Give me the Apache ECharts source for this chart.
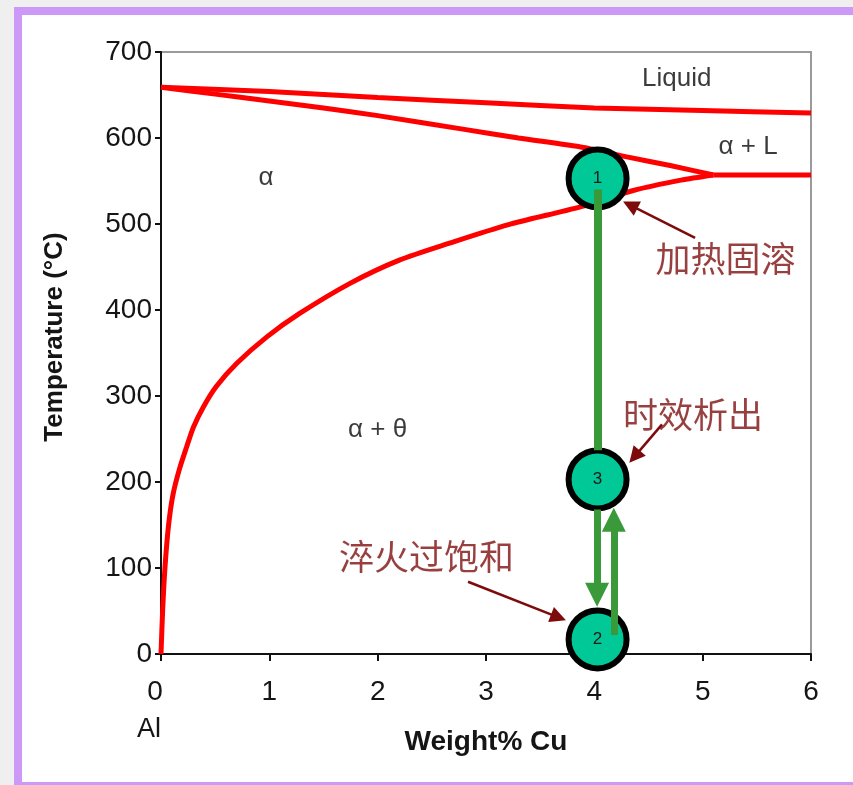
<!DOCTYPE html>
<html><head><meta charset="utf-8">
<script src="https://cdn.jsdelivr.net/npm/echarts@6/dist/echarts.min.js"></script>
<style>html,body{margin:0;padding:0;background:#efefef;}#c{width:853px;height:785px;}</style>
</head><body><div id="c"></div>
<script>
// ---- data ----
const xTicks = [0, 1, 2, 3, 4, 5, 6];
const yTicks = [0, 100, 200, 300, 400, 500, 600, 700];

const liquidusCu = [0, 1, 2, 3, 4, 5, 6];
const liquidusT  = [659, 654, 647, 641, 635, 632, 629];

const solidusCu = [0, 0.5, 1, 1.5, 2, 2.8, 3.3, 3.9, 4.3, 4.7, 5.1];
const solidusT  = [659, 651, 643, 635, 626, 610, 600, 589, 578, 568, 557];

const eutecticCu = [5.1, 6];
const eutecticT  = [557, 557];

const solvusCu = [0, 0.015, 0.037, 0.07, 0.11, 0.17, 0.237, 0.3, 0.39, 0.51, 0.7, 0.98, 1.28, 1.745, 2.2, 2.67, 3.2, 3.87, 4.36, 4.8, 5.1];
const solvusT  = [0, 50, 101, 150, 185, 215, 241, 264, 287, 311, 338, 369, 396, 431, 458, 478, 499, 520, 539, 551, 557];

const stepLabels = ['1', '2', '3'];
const stepCu = [4.03, 4.03, 4.03];
const stepT  = [553, 17, 203];

// process path segments (green)
const heatAgeCu = [4.03, 4.03];
const heatAgeT  = [540, 237];
const quenchCu = [4.025, 4.025];
const quenchT  = [168, 69];
const agingCu = [4.18, 4.18];
const agingT  = [22, 156];

// phase region labels
const regionNames = ['Liquid', 'α + L', 'α', 'α + θ'];
const regionCu = [4.76, 5.42, 0.97, 2.0];
const regionT  = [669, 590, 554, 261];

// annotations (Chinese notes + pointer arrows)
const noteTexts = ['加热固溶', '时效析出', '淬火过饱和'];
const noteCu = [5.21, 4.91, 2.45];
const noteT  = [460, 278, 113];
const noteFromCu = [4.93, 4.625, 2.834];
const noteFromT  = [484, 267, 84];
const noteToCu   = [4.331, 4.371, 3.669];
const noteToT    = [522, 229.5, 42.6];

// ---- build ----
const zip = (a, b) => a.map((v, i) => [v, b[i]]);
const RED = '#ff0000', GREEN = '#3a9a3a', NOTE = '#7e1010';
const FONT = 'Liberation Sans, Arial, sans-serif';
const INK = '#151515';

const chart = echarts.init(document.getElementById('c'));
const redLine = (name, xs, ys) => ({
  name, type: 'line', data: zip(xs, ys), showSymbol: false, symbol: 'none',
  smooth: 0.25, lineStyle: { color: RED, width: 5 }, z: 2, silent: true
});

chart.setOption({
  animation: false,
  backgroundColor: 'transparent',
  graphic: [
    { type: 'rect', shape: { x: 14, y: 7, width: 839, height: 778 }, style: { fill: '#ffffff' }, z: -10 },
    { type: 'rect', shape: { x: 14, y: 7, width: 839, height: 8 }, style: { fill: '#cc99f8' }, z: -9 },
    { type: 'rect', shape: { x: 14, y: 7, width: 8, height: 778 }, style: { fill: '#cc99f8' }, z: -9 },
    { type: 'rect', shape: { x: 14, y: 782, width: 839, height: 3 }, style: { fill: '#cc99f8' }, z: -9 }
  ],
  grid: { left: 161, right: 42, top: 52, bottom: 131, show: true, borderColor: '#9a9a9a', borderWidth: 2, backgroundColor: '#ffffff' },
  xAxis: {
    type: 'value', min: xTicks[0], max: xTicks[xTicks.length - 1], interval: 1,
    axisLine: { show: true, onZero: false, lineStyle: { color: '#111', width: 2 } },
    axisTick: { show: true, length: 7, lineStyle: { color: '#111', width: 2 } },
    splitLine: { show: false },
    axisLabel: {
      fontSize: 28, color: INK, fontFamily: FONT, margin: 19, lineHeight: 38,
      formatter: v => v === 0 ? '{z|0}\n{al|Al}' : String(v),
      rich: {
        z: { fontSize: 28, color: INK, fontFamily: FONT, lineHeight: 38, padding: [0, 12, 0, 0] },
        al: { fontSize: 27, color: INK, fontFamily: FONT, lineHeight: 38, padding: [0, 24, 0, 0] }
      }
    },
    name: 'Weight% Cu', nameLocation: 'middle', nameGap: 88, nameMoveOverlap: false,
    nameTextStyle: { fontSize: 28, fontWeight: 'bold', color: INK, fontFamily: FONT, verticalAlign: 'middle', lineHeight: 30, padding: 0 }
  },
  yAxis: {
    type: 'value', min: yTicks[0], max: yTicks[yTicks.length - 1], interval: 100,
    axisLine: { show: true, lineStyle: { color: '#111', width: 2 } },
    axisTick: { show: true, length: 6, lineStyle: { color: '#111', width: 2 } },
    splitLine: { show: false },
    axisLabel: { fontSize: 28, color: INK, fontFamily: FONT, margin: 9 },
    name: 'Temperature (°C)', nameLocation: 'middle', nameGap: 93, nameRotate: 90, nameMoveOverlap: false,
    nameTextStyle: { fontSize: 26, fontWeight: 'bold', color: INK, fontFamily: FONT, padding: [0, 0, 0, 32] }
  },
  series: [
    redLine('liquidus', liquidusCu, liquidusT),
    redLine('solidus', solidusCu, solidusT),
    redLine('eutectic', eutecticCu, eutecticT),
    redLine('solvus', solvusCu, solvusT),
    {
      name: 'steps', type: 'scatter', z: 5, silent: true,
      data: stepCu.map((x, i) => ({ value: [x, stepT[i]], label: stepLabels[i] })),
      symbol: 'circle', symbolSize: 58,
      itemStyle: { color: '#00c896', borderColor: '#000', borderWidth: 6, opacity: 1 },
      label: { show: true, position: 'inside', formatter: p => p.data.label, fontSize: 17, color: '#1a1a1a', fontFamily: FONT }
    },
    {
      name: 'path', type: 'lines', coordinateSystem: 'cartesian2d', z: 6, silent: true,
      symbol: ['none', 'none'],
      lineStyle: { color: GREEN, width: 8, opacity: 1, curveness: 0 },
      data: [{ coords: zip(heatAgeCu, heatAgeT) }]
    },
    {
      name: 'pathArrows', type: 'lines', coordinateSystem: 'cartesian2d', z: 6, silent: true,
      symbol: ['none', 'triangle'], symbolSize: [26, 24],
      lineStyle: { color: GREEN, width: 7, opacity: 1, curveness: 0 },
      itemStyle: { color: GREEN },
      data: [{ coords: zip(quenchCu, quenchT) }, { coords: zip(agingCu, agingT) }]
    },
    {
      name: 'noteArrows', type: 'lines', coordinateSystem: 'cartesian2d', z: 7, silent: true,
      symbol: ['none', 'triangle'], symbolSize: [14, 16],
      lineStyle: { color: '#7d0b0b', width: 2.5, opacity: 1, curveness: 0 },
      data: noteFromCu.map((x, i) => ({ coords: [[x, noteFromT[i]], [noteToCu[i], noteToT[i]]] }))
    },
    {
      name: 'regions', type: 'scatter', z: 8, silent: true, symbolSize: 1,
      itemStyle: { color: 'rgba(0,0,0,0)' },
      data: regionCu.map((x, i) => ({ value: [x, regionT[i]], name: regionNames[i] })),
      label: { show: true, position: 'inside', formatter: p => p.name, fontSize: 26, color: '#0a0a0a', fontFamily: FONT }
    },
    {
      name: 'notes', type: 'scatter', z: 8, silent: true, symbolSize: 1,
      itemStyle: { color: 'rgba(0,0,0,0)' },
      data: noteCu.map((x, i) => ({ value: [x, noteT[i]], name: noteTexts[i] })),
      label: { show: true, position: 'inside', formatter: p => p.name, fontSize: 35, color: NOTE, fontFamily: 'Noto Sans CJK SC' }
    }
  ]
});
</script></body></html>
